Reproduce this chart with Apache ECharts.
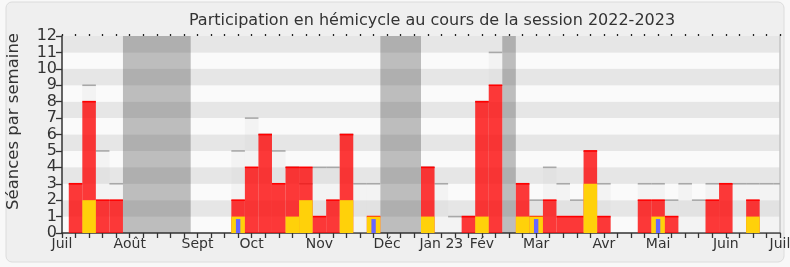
<!DOCTYPE html>
<html>
<head>
<meta charset="utf-8">
<script src="https://cdn.jsdelivr.net/npm/echarts@6/dist/echarts.min.js"></script>
<style>
html,body{margin:0;padding:0;background:#f8f8f8;}
#chart{width:790px;height:267px;}
</style>
</head>
<body>
<div id="chart"></div>
<script>
// Week index (0..53), one bar per week centred on its tick
var weeks = [];
for (var i = 0; i <= 53; i++) weeks.push(i);

// Total sessions held in the week (light grey bars)
var seances = [null,3,9,5,3,null,null,null,null,null,null,null,null,5,7,6,5,4,3,4,4,6,3,3,null,null,null,4,3,1,1,8,11,null,3,2,4,3,2,5,3,null,null,3,3,2,3,2,3,3,3,3,3,3];
// Weeks present (red bars)
var presences = [null,3,8,2,2,null,null,null,null,null,null,null,null,2,4,6,3,4,4,1,2,6,null,1,null,null,null,4,null,null,1,8,9,null,3,1,2,1,1,5,1,null,null,2,2,1,null,null,2,3,null,2,null,null];
// Interventions (yellow bars)
var interventions = [null,null,2,null,null,null,null,null,null,null,null,null,null,1,null,null,null,1,2,null,null,2,null,1,null,null,null,1,null,null,null,1,null,null,1,1,null,null,null,3,null,null,null,null,1,null,null,null,null,null,null,1,null,null];
// Questions (thin blue bars)
var questions = [null,null,null,null,null,null,null,null,null,null,null,null,null,0.85,null,null,null,null,null,null,null,null,null,0.85,null,null,null,null,null,null,null,null,null,null,null,0.85,null,null,null,null,null,null,null,null,0.85,null,null,null,null,null,null,null,null,null];

// Holiday periods (in week units)
var vacStart = [4.5, 23.5, 32.5];
var vacEnd = [9.5, 26.5, 33.5];

// Month tick labels
var monthTicks = [0,5,10,14,19,24,28,31,35,40,44,49,53];
var monthLabels = ['Juil','Août','Sept','Oct','Nov','Déc','Jan 23','Fév','Mar','Avr','Mai','Juin','Juil'];

function pairs(arr){
  var out = [];
  for (var i = 0; i < arr.length; i++) if (arr[i] != null) out.push([weeks[i], arr[i]]);
  return out;
}

function barRender(fill, topColor){
  return function(params, api){
    var x = api.value(0), v = api.value(1);
    var p1 = api.coord([x - 0.5, v]);
    var p2 = api.coord([x + 0.5, 0]);
    var children = [{
      type:'rect',
      shape:{x:p1[0], y:p1[1], width:p2[0]-p1[0], height:p2[1]-p1[1]},
      style:{fill:fill}
    }];
    if (topColor) children.push({
      type:'line',
      shape:{x1:p1[0], y1:p1[1], x2:p2[0], y2:p1[1]},
      style:{stroke:topColor, lineWidth:1.6}
    });
    return {type:'group', children:children};
  };
}

var chart = echarts.init(document.getElementById('chart'), null, {renderer:'canvas'});
var FONT = 'DejaVu Sans';
chart.setOption({
  backgroundColor:'#f8f8f8',
  animation:false,
  textStyle:{fontFamily:FONT},
  graphic:[{
    type:'rect', z:-10, silent:true,
    shape:{x:6, y:2, width:778, height:260, r:6},
    style:{fill:'#efefef', stroke:'#dcdcdc', lineWidth:1}
  }],
  title:{
    text:'Participation en hémicycle au cours de la session 2022-2023',
    left:427, top:8, textAlign:'center',
    textStyle:{fontFamily:FONT, fontSize:16, fontWeight:'normal', color:'#333'}
  },
  grid:{left:62, right:10, top:36, bottom:34, containLabel:false, outerBoundsMode:'none'},
  xAxis:[{
    type:'value', min:0, max:53, interval:1,
    axisLine:{show:true, onZero:false, lineStyle:{color:'#333', width:1.5}},
    axisTick:{show:true, length:5, lineStyle:{color:'#333', width:1.3}},
    splitLine:{show:false},
    axisLabel:{
      show:true, showMinLabel:true, showMaxLabel:true, margin:4,
      color:'#333', fontSize:14, fontFamily:FONT,
      formatter:function(v){ var i = monthTicks.indexOf(Math.round(v)); return i >= 0 ? monthLabels[i] : ''; }
    }
  },{
    type:'value', position:'top', min:0, max:53, interval:1,
    axisLine:{show:false, onZero:false},
    axisTick:{show:true, length:2, lineStyle:{color:'#222', width:1.3}},
    axisLabel:{show:false}, splitLine:{show:false}
  }],
  yAxis:[{
    type:'value', min:0, max:12, interval:1,
    name:'Séances par semaine', nameLocation:'middle', nameGap:40,
    nameTextStyle:{fontFamily:FONT, fontSize:16.5, color:'#333', padding:[0,0,0,26]},
    axisLine:{show:true, onZero:false, lineStyle:{color:'#333', width:1.5}},
    axisTick:{show:true, length:6, lineStyle:{color:'#333', width:1.3}},
    axisLabel:{color:'#333', fontSize:16, lineHeight:14, fontFamily:FONT, margin:5,
               showMinLabel:true, showMaxLabel:true, hideOverlap:false},
    splitLine:{show:false},
    splitArea:{show:true, areaStyle:{color:['#fafafa','#e6e6e6']}}
  },{
    type:'value', position:'right', min:0, max:12, interval:1,
    axisLine:{show:true, onZero:false, lineStyle:{color:'#c4c4c4', width:1.5}},
    axisTick:{show:false}, axisLabel:{show:false}, splitLine:{show:false}
  }],
  series:[{
    type:'custom', name:'vacances', clip:true, z:1,
    data: vacStart.map(function(s, i){ return [s, vacEnd[i]]; }),
    renderItem:function(params, api){
      var p1 = api.coord([api.value(0), 12]);
      var p2 = api.coord([api.value(1), 0]);
      return {type:'rect', shape:{x:p1[0], y:p1[1], width:p2[0]-p1[0], height:p2[1]-p1[1]},
              style:{fill:'rgba(50,50,50,0.3)'}};
    }
  },{
    type:'custom', name:'séances', clip:true, z:2,
    data: pairs(seances),
    renderItem: barRender('rgba(210,210,210,0.18)', '#a8a8a8')
  },{
    type:'custom', name:'présences', clip:true, z:3,
    data: pairs(presences),
    renderItem: barRender('rgba(255,0,0,0.77)', '#ff0000')
  },{
    type:'custom', name:'interventions', clip:true, z:4,
    data: pairs(interventions),
    renderItem: barRender('#ffd10a', null)
  },{
    type:'custom', name:'questions', clip:true, z:5,
    data: pairs(questions),
    renderItem:function(params, api){
      var x = api.value(0), v = api.value(1);
      var p1 = api.coord([x, v]);
      var p2 = api.coord([x, 0]);
      return {type:'rect', shape:{x:p1[0]-2.2, y:p1[1], width:4.4, height:p2[1]-p1[1]},
              style:{fill:'#6666ff'}};
    }
  }]
});
</script>
</body>
</html>
